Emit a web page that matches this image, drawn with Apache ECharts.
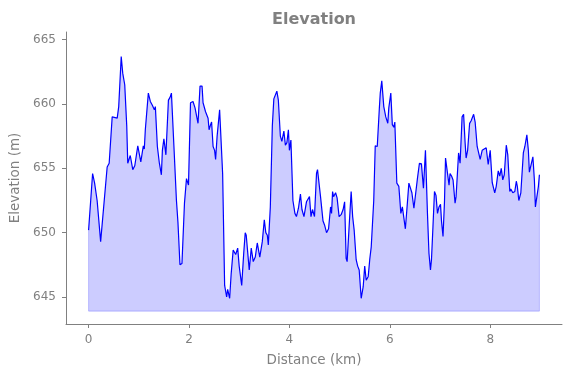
<!DOCTYPE html>
<html>
<head>
<meta charset="utf-8">
<script src="https://cdn.jsdelivr.net/npm/echarts@6/dist/echarts.min.js"></script>
<style>
  html, body { margin: 0; padding: 0; background: #fff; }
  #chart { width: 571px; height: 378px; }
</style>
</head>
<body>
<div id="chart"></div>
<script>
// distance along the track (km)
const distance = [
  0.00, 0.08, 0.12, 0.17, 0.24, 0.27, 0.37, 0.41, 0.47, 0.50, 0.57, 0.60, 0.65, 0.68, 0.72, 0.76, 0.78, 0.80, 0.83, 0.88,
  0.92, 0.98, 1.04, 1.09, 1.11, 1.13, 1.19, 1.23, 1.27, 1.31, 1.33, 1.37, 1.41, 1.45, 1.47, 1.50, 1.54, 1.59, 1.62, 1.65,
  1.70, 1.75, 1.77, 1.78, 1.82, 1.86, 1.91, 1.95, 1.99, 2.03, 2.08, 2.12, 2.15, 2.18, 2.22, 2.26, 2.28, 2.33, 2.38, 2.40,
  2.43, 2.45, 2.48, 2.51, 2.53, 2.56, 2.61, 2.64, 2.67, 2.71, 2.73, 2.75, 2.77, 2.81, 2.84, 2.88, 2.91, 2.93, 2.97, 3.00,
  3.05, 3.09, 3.12, 3.14, 3.20, 3.24, 3.28, 3.32, 3.36, 3.38, 3.41, 3.46, 3.50, 3.53, 3.56, 3.58, 3.62, 3.66, 3.69, 3.72,
  3.75, 3.78, 3.82, 3.85, 3.89, 3.92, 3.95, 3.98, 4.00, 4.03, 4.07, 4.11, 4.14, 4.18, 4.22, 4.25, 4.29, 4.34, 4.37, 4.40,
  4.43, 4.46, 4.50, 4.54, 4.56, 4.62, 4.67, 4.70, 4.74, 4.78, 4.82, 4.84, 4.86, 4.88, 4.92, 4.95, 4.99, 5.03, 5.07, 5.10,
  5.13, 5.15, 5.19, 5.23, 5.26, 5.29, 5.33, 5.36, 5.39, 5.43, 5.47, 5.50, 5.53, 5.57, 5.60, 5.63, 5.68, 5.71, 5.75, 5.79,
  5.81, 5.84, 5.88, 5.92, 5.96, 5.98, 6.02, 6.05, 6.08, 6.10, 6.14, 6.18, 6.22, 6.25, 6.28, 6.31, 6.34, 6.38, 6.41, 6.44,
  6.48, 6.51, 6.55, 6.59, 6.63, 6.67, 6.71, 6.75, 6.78, 6.81, 6.83, 6.86, 6.89, 6.92, 6.95, 6.98, 7.01, 7.03, 7.06, 7.09,
  7.11, 7.14, 7.18, 7.20, 7.23, 7.26, 7.30, 7.32, 7.37, 7.40, 7.44, 7.47, 7.50, 7.52, 7.55, 7.59, 7.62, 7.64, 7.67, 7.70,
  7.74, 7.76, 7.80, 7.84, 7.88, 7.92, 7.96, 8.00, 8.04, 8.07, 8.09, 8.12, 8.16, 8.19, 8.22, 8.25, 8.28, 8.32, 8.35, 8.39,
  8.41, 8.45, 8.49, 8.52, 8.54, 8.57, 8.61, 8.66, 8.69, 8.73, 8.76, 8.78, 8.81, 8.85, 8.88, 8.90, 8.93, 8.96, 8.98
];

// elevation (m)
const elevation = [
  650.2, 654.6, 653.85, 652.5, 649.3, 649.4, 655.1, 655.4, 659.0, 658.85, 658.9, 659.8, 663.7, 662.4, 661.5, 658.3, 655.4, 655.3, 656.0, 654.9,
  655.2, 656.75, 655.5, 656.75, 656.5, 658.0, 660.85, 660.2, 659.9, 659.55, 659.8, 656.7, 655.4, 654.5, 656.4, 657.3, 656.05, 660.3, 660.5, 660.85,
  656.7, 652.5, 652.4, 650.8, 647.5, 647.6, 652.3, 654.2, 653.7, 660.1, 660.2, 659.7, 659.8, 658.5, 661.4, 661.4, 660.1, 659.4, 658.9, 658.0,
  658.4, 658.6, 656.7, 656.4, 655.7, 657.5, 659.55, 659.4, 654.6, 645.9, 645.9, 645.0, 645.6, 644.9, 646.8, 648.65, 648.8, 648.3, 648.8, 647.4,
  645.9, 648.4, 650.0, 649.8, 647.1, 648.8, 647.75, 648.1, 649.2, 649.2, 648.1, 649.3, 651.0, 650.0, 649.8, 649.05, 652.0, 658.3, 660.4, 660.5,
  661.0, 660.3, 657.5, 657.1, 657.9, 656.8, 657.0, 658.0, 656.4, 657.2, 652.5, 651.5, 651.25, 651.9, 653.0, 651.8, 651.25, 652.4, 652.3, 652.8,
  651.25, 651.8, 651.25, 654.6, 654.9, 652.8, 650.9, 650.6, 650.0, 650.3, 652.0, 651.5, 653.2, 652.8, 653.1, 652.7, 651.25, 651.4, 651.8, 652.4,
  648.0, 647.75, 650.5, 653.2, 651.25, 650.2, 647.9, 647.4, 647.1, 644.9, 645.8, 647.4, 646.3, 646.6, 647.9, 648.9, 652.5, 656.75, 656.7, 659.55,
  660.85, 661.8, 659.8, 659.0, 658.5, 659.7, 660.85, 658.4, 658.2, 658.6, 653.85, 653.6, 651.5, 652.0, 652.0, 650.3, 651.8, 653.85, 654.0, 653.1,
  651.9, 652.0, 654.2, 655.4, 655.35, 653.45, 656.4, 651.5, 648.4, 647.1, 647.9, 650.5, 653.2, 652.9, 651.5, 652.0, 652.2, 650.9, 649.7, 652.5,
  655.8, 655.7, 653.7, 654.6, 654.4, 654.1, 652.3, 652.8, 656.2, 655.4, 659.0, 659.2, 657.0, 655.8, 656.4, 658.5, 658.7, 658.8, 659.2, 658.6,
  656.7, 656.75, 655.7, 656.4, 656.5, 656.6, 655.3, 656.4, 653.9, 654.0, 653.1, 653.6, 654.8, 654.4, 655.0, 654.1, 654.5, 656.8, 656.05, 653.2,
  653.4, 653.1, 653.2, 654.0, 653.6, 652.5, 653.1, 656.2, 656.7, 657.6, 656.4, 654.7, 654.6, 655.9, 654.1, 652.0, 651.9, 653.6, 654.5
];

const xTicks = [0, 2, 4, 6, 8];
const yTicks = [645, 650, 655, 660, 665];

// fill goes down to 1 m below the lowest point
const base = Math.min(...elevation) - 1;

const gray = '#808080';
const font = 'DejaVu Sans';

const points = distance.map((d, i) => [d, elevation[i]]);
const last = distance.length - 1;
// outline of the filled area (sides and bottom)
const rim = [
  [distance[0], elevation[0]],
  [distance[0], base],
  [distance[last], base],
  [distance[last], elevation[last]]
];

const chart = echarts.init(document.getElementById('chart'), null, { renderer: 'canvas' });

chart.setOption({
  backgroundColor: '#ffffff',
  animation: false,
  title: {
    text: 'Elevation',
    left: 267,
    top: 7,
    textStyle: { color: gray, fontFamily: font, fontWeight: 'bold', fontSize: 16 }
  },
  grid: { left: 66, right: 9, top: 32, bottom: 54 },
  xAxis: {
    type: 'value',
    min: -0.45,
    max: 9.43,
    name: 'Distance (km)',
    nameLocation: 'middle',
    nameGap: 29,
    nameTextStyle: { color: gray, fontFamily: font, fontSize: 13.5 },
    splitLine: { show: false },
    axisLine: { onZero: false, lineStyle: { color: gray, width: 1 } },
    axisTick: { show: true, inside: false, length: 4, customValues: xTicks, lineStyle: { color: gray } },
    axisLabel: { customValues: xTicks, color: gray, fontFamily: font, fontSize: 12, margin: 10 }
  },
  yAxis: {
    type: 'value',
    min: 642.9,
    max: 665.6,
    name: 'Elevation (m)',
    nameLocation: 'middle',
    nameGap: 44,
    nameTextStyle: { color: gray, fontFamily: font, fontSize: 13.5 },
    splitLine: { show: false },
    axisLine: { show: true, onZero: false, lineStyle: { color: gray, width: 1 } },
    axisTick: { show: true, inside: false, length: 4, customValues: yTicks, lineStyle: { color: gray } },
    axisLabel: { customValues: yTicks, color: gray, fontFamily: font, fontSize: 12, margin: 10 }
  },
  series: [
    {
      type: 'line',
      data: points,
      symbol: 'none',
      lineStyle: { color: '#0000ff', width: 1.2 },
      areaStyle: { color: '#0000ff', opacity: 0.2, origin: base },
      z: 3
    },
    {
      type: 'line',
      data: rim,
      symbol: 'none',
      lineStyle: { color: '#0000ff', opacity: 0.2, width: 1 },
      z: 2
    }
  ]
});
</script>
</body>
</html>
